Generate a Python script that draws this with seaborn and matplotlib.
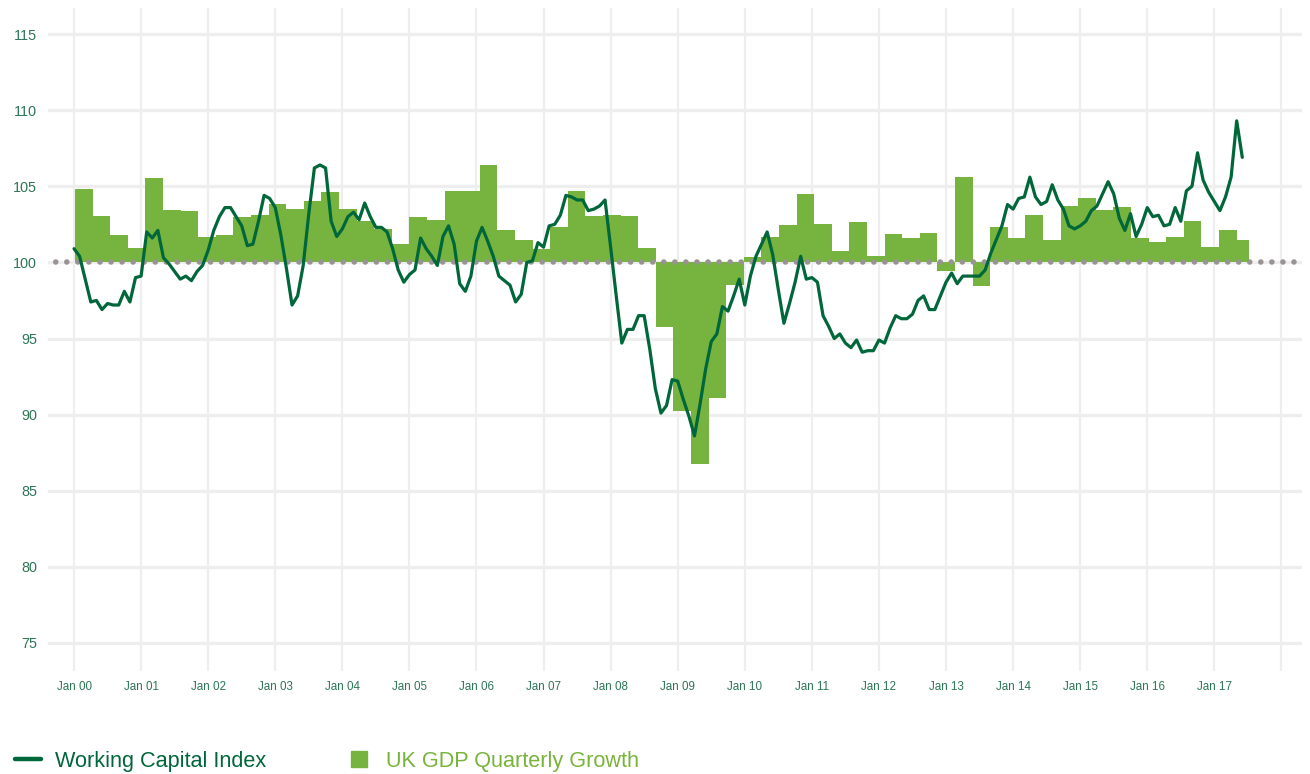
"""Working Capital Index vs UK GDP quarterly growth."""
import numpy as np
import pandas as pd
import seaborn as sns
import matplotlib.pyplot as plt
from matplotlib.lines import Line2D
from matplotlib.patches import Rectangle

# Working Capital Index, monthly from Jan 2000
wc_index = [
    100.9, 100.4, 98.9, 97.4, 97.5, 96.9, 97.3, 97.2, 97.2, 98.1,
    97.4, 99.0, 99.1, 102.0, 101.6, 102.1, 100.3, 99.9, 99.4, 98.9,
    99.1, 98.8, 99.4, 99.8, 100.8, 102.1, 103.0, 103.6, 103.6, 103.0,
    102.4, 101.1, 101.2, 102.7, 104.4, 104.2, 103.6, 101.8, 99.6, 97.2,
    97.8, 99.8, 103.2, 106.2, 106.4, 106.2, 102.7, 101.7, 102.2, 103.0,
    103.3, 102.8, 103.9, 103.0, 102.3, 102.3, 102.0, 100.9, 99.5, 98.7,
    99.2, 99.5, 101.6, 100.9, 100.4, 99.8, 101.7, 102.4, 101.2, 98.6,
    98.1, 99.1, 101.4, 102.3, 101.4, 100.4, 99.1, 98.8, 98.5, 97.4,
    97.9, 100.0, 100.1, 101.3, 101.0, 102.4, 102.5, 103.1, 104.4, 104.3,
    104.1, 104.1, 103.4, 103.5, 103.7, 104.1, 101.0, 97.8, 94.7, 95.6,
    95.6, 96.5, 96.5, 94.3, 91.7, 90.1, 90.6, 92.3, 92.2, 91.0,
    89.9, 88.6, 90.7, 93.0, 94.8, 95.3, 97.1, 96.8, 97.8, 98.9,
    97.2, 99.1, 100.4, 101.2, 102.0, 100.5, 98.2, 96.0, 97.3, 98.7,
    100.4, 98.9, 99.0, 98.7, 96.5, 95.8, 95.0, 95.3, 94.7, 94.4,
    94.9, 94.1, 94.2, 94.2, 94.9, 94.7, 95.7, 96.5, 96.3, 96.3,
    96.6, 97.5, 97.8, 96.9, 96.9, 97.8, 98.7, 99.3, 98.6, 99.1,
    99.1, 99.1, 99.1, 99.5, 100.6, 101.5, 102.4, 103.8, 103.5, 104.2,
    104.3, 105.6, 104.3, 103.8, 104.0, 105.1, 104.1, 103.5, 102.4, 102.2,
    102.4, 102.7, 103.4, 103.7, 104.5, 105.3, 104.5, 102.9, 102.1, 103.2,
    101.7, 102.5, 103.6, 103.0, 103.1, 102.4, 102.5, 103.6, 102.7, 104.7,
    105.0, 107.2, 105.4, 104.6, 104.0, 103.4, 104.3, 105.6, 109.3, 106.9,
]

# UK GDP quarterly growth, bar tops on the index scale, from Q1 2000
gdp_bar_top = [
    104.83, 103.08, 101.77, 100.92, 105.56, 103.47, 103.40, 101.64, 101.77, 102.95,
    103.14, 103.86, 103.53, 104.05, 104.64, 103.53, 102.70, 102.17, 101.19, 102.95,
    102.76, 104.66, 104.72, 106.42, 102.11, 101.45, 100.86, 102.30, 104.72, 103.02,
    103.14, 103.08, 100.92, 95.77, 90.24, 86.75, 91.09, 98.51, 100.37, 101.68,
    102.48, 104.52, 102.55, 100.74, 102.63, 100.41, 101.84, 101.58, 101.91, 99.43,
    105.62, 98.45, 102.35, 101.63, 103.13, 101.44, 103.72, 104.24, 103.46, 103.66,
    101.57, 101.37, 101.70, 102.74, 100.98, 102.15, 101.50,
]

year_labels = ["Jan %02d" % y for y in range(0, 18)]
y_ticks = [75, 80, 85, 90, 95, 100, 105, 110, 115]

LINE = "#00673A"
BAR = "#76B43F"
DOT = "#999393"
GRID = "#EEEEEE"
TICK_TXT = "#2D7656"

# the bar series sits on its own (slightly wider) category spacing
BAR_X0 = 2000.015
BAR_STEP = 0.2624
BAR_CLIP_X = 2017.515

sns.set_style("white")
plt.rcParams["font.family"] = ["Liberation Sans", "DejaVu Sans"]

fig = plt.figure(figsize=(13.1, 7.74), dpi=100)
ax = fig.add_axes([48 / 1310, 1 - 671 / 774, 1254 / 1310, 663 / 774])

months = pd.date_range("2000-01-01", periods=len(wc_index), freq="MS")
wc = pd.DataFrame({"t": months.year + (months.month - 1) / 12, "index": wc_index})

quarters = pd.period_range("2000Q1", periods=len(gdp_bar_top), freq="Q")
gdp = pd.DataFrame({"quarter": quarters.astype(str), "top": gdp_bar_top})
gdp["x"] = BAR_X0 + BAR_STEP * np.arange(len(gdp))

bars = ax.bar(gdp["x"], gdp["top"] - 100, bottom=100, width=BAR_STEP,
              align="edge", color=BAR, linewidth=0, zorder=2)
clip = Rectangle((1990, 50), BAR_CLIP_X - 1990, 100, transform=ax.transData)
for b in bars:
    b.set_clip_path(clip)

# dotted baseline at 100
ax.axhline(100, color=DOT, lw=4.0, ls=(0.6, (0.01, 1.98)), dash_capstyle="round", zorder=3)

sns.lineplot(data=wc, x="t", y="index", color=LINE, linewidth=2.3, ax=ax, zorder=4)

ax.set_xlim(1999.612, 2018.307)
ax.set_ylim(73.16, 116.71)
ax.set_xticks(np.arange(2000, 2019))
ax.set_xticklabels(year_labels + [""])
ax.set_yticks(y_ticks)
ax.set_xlabel("")
ax.set_ylabel("")

for s in ax.spines.values():
    s.set_visible(False)
ax.set_axisbelow(True)
ax.xaxis.grid(True, color=GRID, lw=1.6)
ax.yaxis.grid(True, color=GRID, lw=2.4)
ax.tick_params(axis="x", length=0, pad=7, labelsize=8.4, labelcolor=TICK_TXT)
ax.tick_params(axis="y", length=0, pad=8, labelsize=10.4, labelcolor=TICK_TXT)

handles = [
    Line2D([], [], color=LINE, lw=3.2),
    Line2D([], [], color=BAR, marker="s", ls="none", markersize=11.5),
]
leg = fig.legend(handles, ["Working Capital Index", "UK GDP Quarterly Growth"],
                 loc="center left", bbox_to_anchor=(14.7 / 1310, 1 - 761 / 774),
                 ncol=2, frameon=False, fontsize=15.6, handlelength=1.2,
                 handletextpad=0.64, columnspacing=3.7, borderpad=0, borderaxespad=0)
leg.get_texts()[0].set_color(LINE)
leg.get_texts()[1].set_color("#78B43C")

fig.savefig("out.png", dpi=100)
